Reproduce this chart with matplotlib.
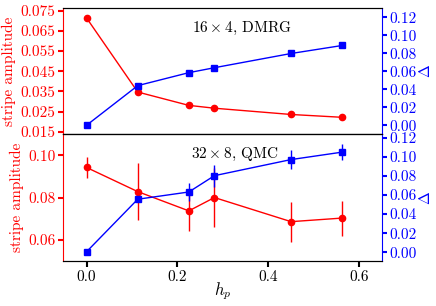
import matplotlib
matplotlib.use("Agg")
from matplotlib import pyplot as plt

plt.rcParams['font.family'] = 'serif'
plt.rcParams['font.serif'] = ['cmr10']
plt.rcParams['mathtext.fontset'] = 'cm'
plt.rcParams['axes.formatter.use_mathtext'] = True
plt.rcParams['font.size'] = 11

hp = [0.0, 0.1125, 0.225, 0.28125, 0.45, 0.5625]

# 16 x 4 DMRG
dmrg_amp = [0.0713, 0.0347, 0.0281, 0.0267, 0.0236, 0.0222]
dmrg_gap = [0.0, 0.044, 0.0584, 0.0639, 0.0797, 0.0886]

# 32 x 8 QMC
qmc_amp = [0.0942, 0.0828, 0.0737, 0.0800, 0.0686, 0.0703]
qmc_amp_err = [0.0051, 0.0133, 0.0097, 0.0138, 0.0094, 0.0083]
qmc_gap = [0.0006, 0.0556, 0.0632, 0.0803, 0.0972, 0.1050]
qmc_gap_err = [0.0, 0.0, 0.0090, 0.0116, 0.0098, 0.0087]

red = '#ff0000'
blue = '#0000ff'

fig = plt.figure(figsize=(4.36, 3.06), dpi=100)
gs = fig.add_gridspec(2, 1, left=0.1445, right=0.876, top=0.974, bottom=0.147, hspace=0)
ax1 = fig.add_subplot(gs[0])
ax2 = fig.add_subplot(gs[1], sharex=ax1)
ax1r = ax1.twinx()
ax2r = ax2.twinx()


def style(ax, axr):
    ax.spines['left'].set_color(red)
    ax.spines['right'].set_visible(False)
    axr.spines['left'].set_visible(False)
    axr.spines['right'].set_color(blue)
    ax.tick_params(axis='y', colors=red, direction='out', length=3.5, width=1.5, pad=2)
    axr.tick_params(axis='y', colors=blue, direction='out', length=3.5, width=1.5, pad=2)
    ax.set_ylabel('stripe amplitude', color=red, labelpad=3)
    axr.set_ylabel(r'$\Delta$', color=blue, labelpad=1)


# top panel
ax1.plot(hp, dmrg_amp, color=red, marker='o', ms=4.5, lw=1)
ax1r.plot(hp, dmrg_gap, color=blue, marker='s', ms=4.5, lw=1)
ax1.set_ylim(0.0137, 0.0763)
ax1.set_yticks([0.015, 0.025, 0.035, 0.045, 0.055, 0.065, 0.075])
ax1.set_yticklabels(['0.015', '0.025', '0.035', '0.045', '0.055', '0.065', '0.075'])
ax1r.set_ylim(-0.0103, 0.1303)
ax1r.set_yticks([0.0, 0.02, 0.04, 0.06, 0.08, 0.10, 0.12])
ax1r.set_yticklabels(['0.00', '0.02', '0.04', '0.06', '0.08', '0.10', '0.12'])
ax1.tick_params(axis='x', bottom=False, labelbottom=False)
ax1.text(0.403, 0.84, r'$16\times4$, DMRG', transform=ax1.transAxes, ha='left', va='center')
style(ax1, ax1r)

# bottom panel
ax2.errorbar(hp, qmc_amp, yerr=qmc_amp_err, color=red, marker='o', ms=4.5, lw=1, elinewidth=1, capsize=0)
ax2r.errorbar(hp, qmc_gap, yerr=qmc_gap_err, color=blue, marker='s', ms=4.5, lw=1, elinewidth=1, capsize=0)
ax2.set_ylim(0.050, 0.1098)
ax2.set_yticks([0.06, 0.08, 0.10])
ax2.set_yticklabels(['0.06', '0.08', '0.10'])
ax2r.set_ylim(-0.0092, 0.1235)
ax2r.set_yticks([0.0, 0.02, 0.04, 0.06, 0.08, 0.10, 0.12])
ax2r.set_yticklabels(['0.00', '0.02', '0.04', '0.06', '0.08', '0.10', '0.12'])
ax2.text(0.40, 0.84, r'$32\times8$, QMC', transform=ax2.transAxes, ha='left', va='center')
style(ax2, ax2r)

ax2.set_xlim(-0.052, 0.65)
ax2.set_xticks([0.0, 0.2, 0.4, 0.6])
ax2.set_xticklabels(['0.0', '0.2', '0.4', '0.6'])
ax2.tick_params(axis='x', direction='out', length=4, width=1.5, pad=3)
ax2.set_xlabel(r'$h_p$', fontsize=12)
ax2.xaxis.set_label_coords(0.5, -0.155)

fig.savefig('out.png', dpi=100)
